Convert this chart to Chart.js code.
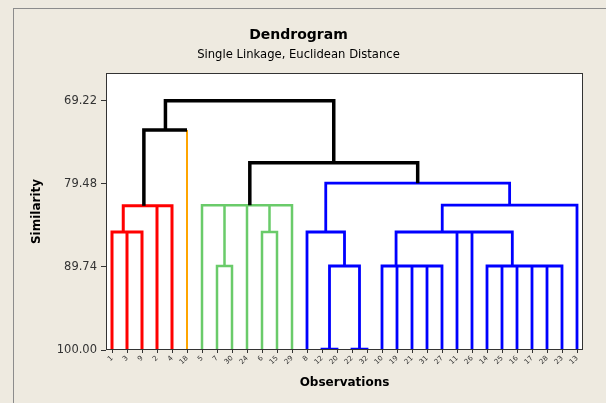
<!DOCTYPE html>
<html>
<head>
<meta charset="utf-8">
<script src="https://cdn.jsdelivr.net/npm/chart.js@4/dist/chart.umd.min.js"></script>
<style>
html,body{margin:0;padding:0;background:#EEEAE0;overflow:hidden;width:606px;height:403px;}
#frame{position:absolute;left:13px;top:8px;width:620px;height:420px;border-left:1px solid #8c8c8c;border-top:1px solid #8c8c8c;}
#wrap{position:absolute;left:14px;top:9px;width:596px;height:394px;}
</style>
</head>
<body>
<div id="frame"></div>
<div id="wrap"><canvas id="c" width="596" height="394"></canvas></div>
<script>
// ---- data ----
const observations = ['1','3','9','2','4','18','5','7','30','24','6','15','29','8','12','20','22','32','10','19','21','31','27','11','26','14','25','16','17','28','23','13'];
// merge steps (R hclust convention: negative = observation, positive = earlier merge step)
const mergeLeft  = [-12,-22,-7, 1,-31,-21,-19,-10,-14,-28,-17,-16, 9,-3,-1,-6,-8,-11,18, 8,-2,15, 3,-5,16,24,20,17,26,22,30];
const mergeRight = [-20,-32,-30, 2,-27, 5, 6, 7,-25,-23,10,11,12,-9,14,-15, 4,-26,13,19,-4,21,-24,23,-29,25,-13,27,28,-18,29];
const mergeSimilarity = [99.91,99.91,89.63,89.63,89.63,89.63,89.63,89.63,89.63,89.63,89.63,89.63,89.63,
  85.43,85.43,85.43,85.43,85.43,85.43,85.43,82.18,82.18,82.12,82.12,82.12,82.12,82.12,79.40,76.87,72.84,69.22];
const similarityTicks = [69.22, 79.48, 89.74, 100.00];
const leafSimilarity = 100;
const numberOfClusters = 4;

// ---- style ----
const FONT = 'DejaVu Sans';
const clusterColours = ['#FF0000', '#FFA500', '#6ACB6A', '#0000FF'];
const clusterWidths = [3, 2, 2.5, 2.8];
const linkColour = '#000000';
const linkWidth = 3.5;

// ---- tree geometry (in data units) ----
const leafPos = {};
observations.forEach((o, i) => { leafPos[o] = i + 1; });
const nMerges = mergeLeft.length;
const mergePos = [];
const nodePos = id => id < 0 ? leafPos[String(-id)] : mergePos[id - 1];
const nodeSim = id => id < 0 ? leafSimilarity : mergeSimilarity[id - 1];
for (let k = 0; k < nMerges; k++) mergePos[k] = (nodePos(mergeLeft[k]) + nodePos(mergeRight[k])) / 2;

const firstLink = nMerges - (numberOfClusters - 1);
const isLink = id => id > 0 && (id - 1) >= firstLink;
function leavesOf(id) { return id < 0 ? [String(-id)] : leavesOf(mergeLeft[id - 1]).concat(leavesOf(mergeRight[id - 1])); }
const roots = [];
for (let k = firstLink; k < nMerges; k++) {
  [mergeLeft[k], mergeRight[k]].forEach(c => { if (!isLink(c)) roots.push(c); });
}
const minPos = id => Math.min(...leavesOf(id).map(l => leafPos[l]));
roots.sort((a, b) => minPos(a) - minPos(b));
const clusterOf = {};
function mark(id, ci) { clusterOf[id] = ci; if (id > 0) { mark(mergeLeft[id - 1], ci); mark(mergeRight[id - 1], ci); } }
roots.forEach((r, ci) => mark(r, ci));

const mergeKey = k => (k >= firstLink) ? 'link' : clusterOf[k + 1];
const legKey = (child, k) => child < 0 ? clusterOf[child] : mergeKey(k);

const groups = {};
function addLine(key, pts) {
  if (!groups[key]) groups[key] = [];
  if (groups[key].length) groups[key].push({ x: pts[0].x, y: null });
  groups[key].push(...pts);
}
for (let k = 0; k < nMerges; k++) {
  const a = mergeLeft[k], b = mergeRight[k], s = mergeSimilarity[k];
  const pa = nodePos(a), pb = nodePos(b), ha = nodeSim(a), hb = nodeSim(b);
  const mk = mergeKey(k), ka = legKey(a, k), kb = legKey(b, k);
  const line = [];
  if (ka === mk) line.push({ x: pa, y: ha }); else addLine(ka, [{ x: pa, y: ha }, { x: pa, y: s }]);
  line.push({ x: pa, y: s }, { x: pb, y: s });
  if (kb === mk) line.push({ x: pb, y: hb }); else addLine(kb, [{ x: pb, y: hb }, { x: pb, y: s }]);
  addLine(mk, line);
}

const datasets = [];
const base = { showLine: true, pointRadius: 0, pointHoverRadius: 0, borderJoinStyle: 'miter', borderCapStyle: 'butt', spanGaps: false, tension: 0 };
datasets.push(Object.assign({ label: 'link', data: groups['link'], borderColor: linkColour, borderWidth: linkWidth }, base));
clusterColours.forEach((col, ci) => {
  if (groups[ci]) datasets.push(Object.assign({ label: 'cluster ' + (ci + 1), data: groups[ci], borderColor: col, borderWidth: clusterWidths[ci] }, base));
});

const plotFrame = {
  id: 'plotFrame',
  beforeDraw(chart) {
    const { ctx, chartArea: a } = chart;
    ctx.save(); ctx.fillStyle = '#ffffff';
    ctx.fillRect(a.left, a.top, a.right - a.left, a.bottom - a.top);
    ctx.restore();
  },
  afterDatasetsDraw(chart) {
    const { ctx, chartArea: a } = chart;
    ctx.save(); ctx.strokeStyle = '#333333'; ctx.lineWidth = 1;
    ctx.strokeRect(a.left + 0.5, a.top + 0.5, a.right - a.left - 1, a.bottom - a.top - 1);
    ctx.restore();
  }
};

new Chart(document.getElementById('c').getContext('2d'), {
  type: 'scatter',
  data: { datasets },
  options: {
    responsive: false, animation: false, devicePixelRatio: 1, events: [],
    layout: { padding: { left: 0, right: 27, top: 0, bottom: 0 } },
    plugins: {
      legend: { display: false }, tooltip: { enabled: false },
      title: { display: true, text: 'Dendrogram', color: '#000', font: { family: FONT, size: 14, weight: 'bold' }, padding: { top: 18, bottom: 0 } },
      subtitle: { display: true, text: 'Single Linkage, Euclidean Distance', color: '#000', font: { family: FONT, size: 11.6 }, padding: { top: 4, bottom: 11.28 } }
    },
    scales: {
      x: {
        type: 'linear', min: 0.6, max: 32.4,
        afterFit: s => { s.height = 53; },
        afterBuildTicks: s => { s.ticks = observations.map((_, i) => ({ value: i + 1 })); },
        ticks: { autoSkip: false, minRotation: 45, maxRotation: 45, padding: 1, color: '#333', font: { family: FONT, size: 7 }, callback: v => observations[Math.round(v) - 1] },
        grid: { drawOnChartArea: false, drawTicks: true, tickLength: 3, color: '#333' },
        border: { display: false },
        title: { display: true, text: 'Observations', color: '#000', font: { family: FONT, size: 12, weight: 'bold' }, padding: { top: 0, bottom: 12.8 } }
      },
      y: {
        type: 'linear', reverse: true, min: 65.8, max: 100,
        afterFit: s => { s.width = 92; },
        afterBuildTicks: s => { s.ticks = similarityTicks.map(v => ({ value: v })); },
        ticks: { color: '#333', padding: 4, font: { family: FONT, size: 11.5 }, callback: v => Number(v).toFixed(2) },
        grid: { drawOnChartArea: false, drawTicks: true, tickLength: 5, color: '#333' },
        border: { display: false },
        title: { display: true, text: 'Similarity', color: '#000', font: { family: FONT, size: 12, weight: 'bold' }, padding: { top: 15.8, bottom: 0 } }
      }
    }
  },
  plugins: [plotFrame]
});
</script>
</body>
</html>
